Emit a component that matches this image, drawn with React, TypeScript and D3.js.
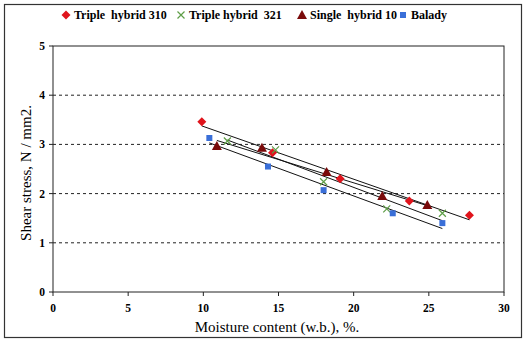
import React from 'react';
import * as d3 from 'd3';

// Shear stress vs. moisture content, four maize varieties with linear trend lines.

const WIDTH = 526;
const HEIGHT = 341;
const MARGIN = { top: 46, right: 22, bottom: 49, left: 53 };
const SERIF = { fontFamily: '"Liberation Serif"' };

const X_TICKS = [0, 5, 10, 15, 20, 25, 30];
const Y_TICKS = [0, 1, 2, 3, 4, 5];

const TH310_X = [9.9, 14.6, 19.1, 23.7, 27.7];
const TH310_Y = [3.46, 2.83, 2.3, 1.85, 1.56];
const TH321_X = [11.6, 14.8, 18.0, 22.2, 25.9];
const TH321_Y = [3.07, 2.89, 2.24, 1.69, 1.6];
const SH10_X = [10.9, 13.9, 18.2, 21.9, 24.9];
const SH10_Y = [2.97, 2.93, 2.44, 1.95, 1.77];
const BALADY_X = [10.4, 14.3, 18.0, 22.6, 25.9];
const BALADY_Y = [3.13, 2.55, 2.07, 1.6, 1.4];

const SERIES = [
  { name: 'Triple\u00a0 hybrid 310', xs: TH310_X, ys: TH310_Y, color: '#e0141c', shape: 'diamond', lx: 66 },
  { name: 'Triple hybrid\u00a0 321', xs: TH321_X, ys: TH321_Y, color: '#5f9e47', shape: 'cross', lx: 181 },
  { name: 'Single\u00a0 hybrid 10', xs: SH10_X, ys: SH10_Y, color: '#7a0a0a', shape: 'triangle', lx: 302 },
  { name: 'Balady', xs: BALADY_X, ys: BALADY_Y, color: '#3a6fd8', shape: 'square', lx: 403 },
];

function fit(xs: number[], ys: number[]) {
  const mx = d3.mean(xs)!;
  const my = d3.mean(ys)!;
  let num = 0;
  let den = 0;
  xs.forEach((x, i) => {
    num += (x - mx) * (ys[i] - my);
    den += (x - mx) * (x - mx);
  });
  const b = num / den;
  return (x: number) => my + b * (x - mx);
}

function Marker({ shape, x, y, color }: { shape: string; x: number; y: number; color: string }) {
  if (shape === 'diamond') {
    return <path d={`M${x},${y - 4.5}L${x + 4.5},${y}L${x},${y + 4.5}L${x - 4.5},${y}Z`} fill={color} />;
  }
  if (shape === 'triangle') {
    return <path d={`M${x},${y - 5}L${x + 5},${y + 4}L${x - 5},${y + 4}Z`} fill={color} />;
  }
  if (shape === 'square') {
    return <rect x={x - 3} y={y - 3} width={6} height={6} fill={color} />;
  }
  return (
    <path
      d={`M${x - 3.5},${y - 3.5}L${x + 3.5},${y + 3.5}M${x - 3.5},${y + 3.5}L${x + 3.5},${y - 3.5}`}
      stroke={color}
      strokeWidth={1.2}
    />
  );
}

export default function App() {
  const x = d3.scaleLinear().domain([0, 30]).range([MARGIN.left, WIDTH - MARGIN.right]);
  const y = d3.scaleLinear().domain([0, 5]).range([HEIGHT - MARGIN.bottom, MARGIN.top]);
  const line = d3
    .line<number>()
    .x((d) => x(d[0]))
    .y((d) => y(d[1]));

  return (
    <svg width={WIDTH} height={HEIGHT} style={{ position: 'absolute', left: 0, top: 0, background: '#fff' }}>
      <rect x={4.5} y={4.5} width={517} height={333} fill="#fff" stroke="#333" strokeWidth={1.2} />

      {/* gridlines */}
      {Y_TICKS.filter((t) => t > 0 && t < 5).map((t) => (
        <line
          key={`g${t}`}
          x1={x(0)}
          x2={x(30)}
          y1={y(t)}
          y2={y(t)}
          stroke="#222"
          strokeDasharray="3,3"
          strokeWidth={1}
        />
      ))}

      {/* plot box */}
      <rect
        x={x(0)}
        y={y(5)}
        width={x(30) - x(0)}
        height={y(0) - y(5)}
        fill="none"
        stroke="#222"
        strokeWidth={1}
      />

      {/* ticks + labels */}
      {Y_TICKS.map((t) => (
        <g key={`y${t}`}>
          <line x1={x(0) - 4} x2={x(0)} y1={y(t)} y2={y(t)} stroke="#222" />
          <text x={x(0) - 8} y={y(t)} dy="0.35em" textAnchor="end" fontSize={11.5} fontWeight="bold" style={SERIF}>
            {t}
          </text>
        </g>
      ))}
      {X_TICKS.map((t) => (
        <g key={`x${t}`}>
          <line x1={x(t)} x2={x(t)} y1={y(0)} y2={y(0) + 4} stroke="#222" />
          <text x={x(t)} y={y(0) + 20} textAnchor="middle" fontSize={11.5} fontWeight="bold" style={SERIF}>
            {t}
          </text>
        </g>
      ))}

      {/* trend lines */}
      {SERIES.map((s) => {
        const f = fit(s.xs, s.ys);
        const x0 = d3.min(s.xs)!;
        const x1 = d3.max(s.xs)!;
        return (
          <path
            key={`t-${s.name}`}
            d={line([
              [x0, f(x0)],
              [x1, f(x1)],
            ] as any)!}
            fill="none"
            stroke="#111"
            strokeWidth={1}
          />
        );
      })}

      {/* points */}
      {SERIES.map((s) =>
        s.xs.map((xv, i) => (
          <Marker key={`${s.name}-${i}`} shape={s.shape} x={x(xv)} y={y(s.ys[i])} color={s.color} />
        )),
      )}

      {/* legend */}
      {SERIES.map((s) => (
        <g key={`l-${s.name}`}>
          <Marker shape={s.shape} x={s.lx} y={15} color={s.color} />
          <text x={s.lx + 8} y={19} fontSize={12} fontWeight="bold" style={SERIF}>
            {s.name}
          </text>
        </g>
      ))}

      {/* axis titles */}
      <text x={277} y={332} textAnchor="middle" fontSize={15} style={SERIF}>
        Moisture content (w.b.), %.
      </text>
      <text transform="translate(31,173) rotate(-90)" textAnchor="middle" fontSize={15} style={SERIF}>
        Shear stress, N / mm2.
      </text>
    </svg>
  );
}
